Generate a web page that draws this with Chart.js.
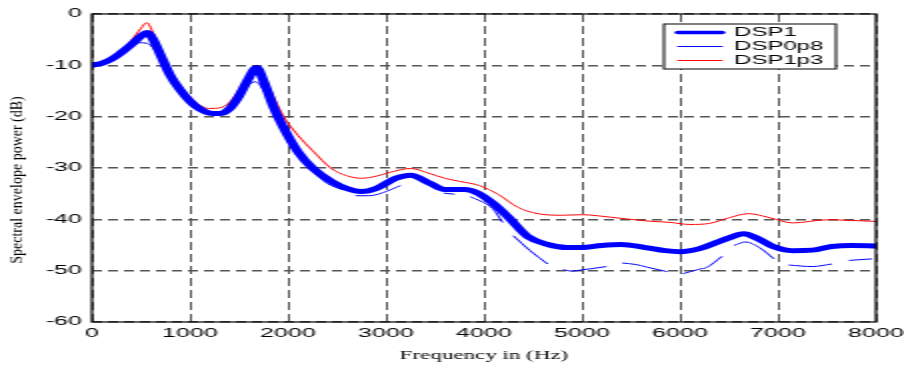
<!DOCTYPE html>
<html>
<head>
<meta charset="utf-8">
<script src="https://cdn.jsdelivr.net/npm/chart.js@4.4.1/dist/chart.umd.min.js"></script>
<style>
  html, body { margin: 0; padding: 0; background: #fff; }
  #chart { display: block; }
</style>
</head>
<body>
<!-- la figura original está estirada al doble en horizontal -->
<canvas id="chart" width="452" height="367" style="width:904px;height:367px;"></canvas>
<script>
// ── Datos ────────────────────────────────────────────
const xTicks = [0, 1000, 2000, 3000, 4000, 5000, 6000, 7000, 8000];
const yTicks = [-60, -50, -40, -30, -20, -10, 0];
const xTitle = 'Frequency in (Hz)';
const yTitle = 'Spectral envelope power (dB)';

const dsp1Freq = [0, 100, 200, 300, 400, 500, 560, 620, 700, 800, 900, 1000, 1100, 1200, 1300, 1400, 1500, 1600, 1680, 1750,
  1850, 1950, 2100, 2250, 2450, 2600, 2750, 2900, 3100, 3250, 3450, 3600, 3800, 3950, 4100, 4250, 4450, 4650, 4850, 5000,
  5200, 5400, 5650, 5850, 6000, 6200, 6400, 6500, 6650, 6800, 6950, 7150, 7350, 7550, 7750, 8000];
const dsp1Db = [-10, -9.6, -8.8, -7.5, -6, -4.3, -3.6, -4.8, -8, -12, -14.8, -17, -18.5, -19.3, -19.4, -18.5, -16, -12.5, -10.4, -13,
  -18, -22, -26.8, -30, -32.7, -34, -34.6, -34, -32, -31.4, -33, -34.2, -34.2, -35, -37, -39.6, -43.4, -44.9, -45.5, -45.5,
  -45.1, -44.9, -45.5, -46.1, -46.3, -45.7, -44.3, -43.6, -42.8, -43.8, -45.3, -46.1, -46, -45.3, -45.1, -45.2];

// null = tramo cortado en la figura original
const dsp0p8Freq = [0, 100, 200, 300, 400, 470, 560, 620, 700, 800, 900, 1000, 1100, 1200, 1300, 1400, 1500, 1600, 1670, 1750,
  1850, 1950, 2100, 2250, 2400, 2550, 2620, 2690, 2830, 2970, 3150, 3350, 3590, 3700, 3780, 3860, 3960, 4090, 4190, 4240,
  4300, 4470, 4650, 4730, 4810, 4900, 4980, 5100, 5250, 5330, 5410, 5550, 5660, 5870, 5950, 6030, 6200, 6270, 6430, 6490,
  6550, 6670, 6810, 6960, 7030, 7110, 7350, 7550, 7640, 7725, 7960];
const dsp0p8Db = [-10, -9.6, -8.8, -7.6, -6.3, -5.6, -5.7, -6.5, -8.6, -12.2, -15, -17.2, -18.7, -19.5, -19.6, -18.8, -16.5, -13.8, -13.2, -14.8,
  -18.5, -22.3, -27.2, -30.5, -33, -34.2, null, -35.4, -35.4, -34.8, -33.4, null, -34.9, -35.1, null, -35.6, -36.4, -37.9, -40.6, null,
  -43.2, -46.1, -48.7, null, -49.8, -50.1, -49.9, -49.6, -49.2, null, -48.5, -48.8, -49.3, -50.2, null, -50.6, -49.7, -49.4, -47.2, null,
  -45.1, -44.4, -45.5, -47.7, null, -48.9, -49.2, -48.7, null, -48, -47.7];

const dsp1p3Freq = [0, 100, 200, 300, 400, 500, 560, 620, 700, 800, 900, 1000, 1100, 1200, 1300, 1400, 1500, 1600, 1680, 1750,
  1850, 1950, 2100, 2250, 2450, 2600, 2750, 2900, 3050, 3250, 3450, 3600, 3750, 3950, 4150, 4350, 4550, 4800, 5000, 5300,
  5650, 5900, 6100, 6300, 6500, 6700, 6900, 7150, 7500, 8000];
const dsp1p3Db = [-9.6, -9.3, -8.4, -7, -5.2, -2.8, -1.7, -3.5, -7, -11, -14, -16.2, -17.8, -18.4, -18.3, -17.3, -14.8, -11.8, -10, -12,
  -16, -19.8, -23.6, -26.6, -30.2, -31.5, -32, -31.6, -30.8, -30.1, -31.1, -32, -32.6, -33.4, -35.2, -37.7, -38.9, -39.2, -39.1, -39.6,
  -40.3, -40.6, -41, -40.8, -39.7, -38.9, -39.6, -40.7, -40.1, -40.4];

const toPoints = (freq, db) => freq.map((f, i) => ({ x: f, y: db[i] }));

// ── Plugins ──────────────────────────────────────────
const framePlugin = {
  id: 'frame',
  afterDatasetsDraw(chart) {
    const { ctx, chartArea: a } = chart;
    ctx.save();
    ctx.strokeStyle = '#000';
    ctx.lineWidth = 1.2;
    ctx.strokeRect(a.left, a.top, a.right - a.left, a.bottom - a.top);
    ctx.restore();
  }
};

const yTitlePlugin = {
  id: 'yTitle',
  afterDraw(chart) {
    const { ctx, chartArea: a } = chart;
    ctx.save();
    ctx.translate(8.5, (a.top + a.bottom) / 2 + 12);
    ctx.scale(0.55, 1); // el título vertical casi no está estirado
    ctx.rotate(-Math.PI / 2);
    ctx.font = '14px "Liberation Serif", "Times New Roman", serif';
    ctx.fillStyle = '#000';
    ctx.textAlign = 'center';
    ctx.textBaseline = 'middle';
    ctx.fillText(yTitle, 0, 0);
    ctx.restore();
  }
};

const legendPlugin = {
  id: 'boxLegend',
  afterDraw(chart) {
    const { ctx } = chart;
    const x0 = 332, y0 = 24, w = 86, h = 45;
    ctx.save();
    ctx.fillStyle = '#fff';
    ctx.fillRect(x0, y0, w, h);
    ctx.strokeStyle = '#000';
    ctx.lineWidth = 1;
    ctx.strokeRect(x0, y0, w, h);
    ctx.font = '12px "Liberation Sans", Arial, sans-serif';
    ctx.textBaseline = 'middle';
    chart.data.datasets.forEach((ds, i) => {
      const y = y0 + 8.5 + i * 14;
      ctx.strokeStyle = ds.borderColor;
      ctx.lineWidth = ds.borderWidth > 2 ? 3.5 : 1;
      ctx.lineCap = 'round';
      ctx.beginPath();
      ctx.moveTo(339, y);
      ctx.lineTo(361, y);
      ctx.stroke();
      ctx.fillStyle = '#000';
      ctx.fillText(ds.label, 367, y + 0.5);
    });
    ctx.restore();
  }
};

// ── Gráfico ──────────────────────────────────────────
const tickFont = { family: '"Liberation Sans", Arial, sans-serif', size: 12.5 };

new Chart(document.getElementById('chart'), {
  type: 'line',
  data: {
    datasets: [
      { label: 'DSP1', data: toPoints(dsp1Freq, dsp1Db), borderColor: '#0000ff', borderWidth: 5, borderJoinStyle: 'round', borderCapStyle: 'round' },
      { label: 'DSP0p8', data: toPoints(dsp0p8Freq, dsp0p8Db), borderColor: '#0000ff', borderWidth: 1 },
      { label: 'DSP1p3', data: toPoints(dsp1p3Freq, dsp1p3Db), borderColor: '#ff0000', borderWidth: 1 }
    ]
  },
  options: {
    responsive: false,
    devicePixelRatio: 1,
    animation: false,
    layout: { padding: { left: 0, top: 14, right: 14, bottom: 0 } },
    elements: {
      point: { radius: 0 },
      line: { cubicInterpolationMode: 'monotone', fill: false }
    },
    plugins: { legend: { display: false }, tooltip: { enabled: false } },
    scales: {
      x: {
        type: 'linear', min: 0, max: 8000,
        afterBuildTicks: s => { s.ticks = xTicks.map(v => ({ value: v })); },
        afterFit: s => { s.height = 45; s.paddingLeft = 0; s.paddingRight = 0; },
        ticks: { color: '#000', font: tickFont, padding: 4, maxRotation: 0, callback: v => String(v) },
        grid: { color: '#555', lineWidth: 1, drawTicks: false },
        border: { display: false, dash: [8, 4] },
        title: { display: true, text: xTitle, color: '#000', padding: { top: 0, bottom: 4 },
          font: { family: '"Liberation Serif", "Times New Roman", serif', size: 11.5 } }
      },
      y: {
        type: 'linear', min: -60, max: 0,
        afterBuildTicks: s => { s.ticks = yTicks.map(v => ({ value: v })); },
        afterFit: s => { s.width = 46; s.paddingTop = 0; s.paddingBottom = 0; },
        ticks: { color: '#000', font: tickFont, padding: 5, callback: v => String(v) },
        grid: { color: '#555', lineWidth: 1.6, drawTicks: false },
        border: { display: false, dash: [5, 3] }
      }
    }
  },
  plugins: [framePlugin, yTitlePlugin, legendPlugin]
});
</script>
</body>
</html>
